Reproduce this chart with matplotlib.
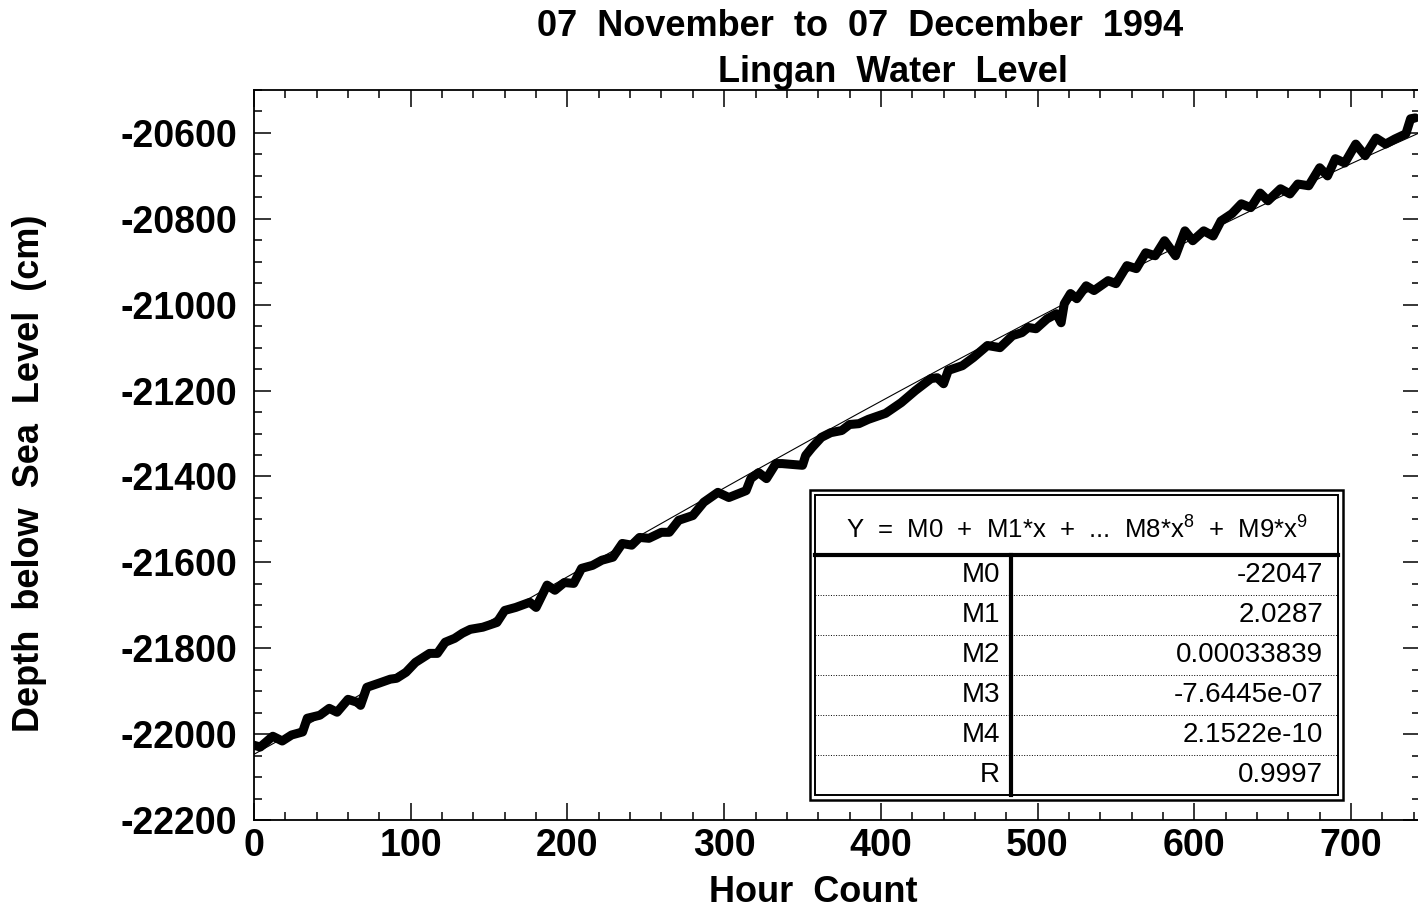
import numpy as np
import matplotlib
matplotlib.use("Agg")
import matplotlib.pyplot as plt
from matplotlib.ticker import MultipleLocator

plt.rcParams['font.family'] = ['Liberation Sans', 'DejaVu Sans']
plt.rcParams['axes.unicode_minus'] = False
plt.rcParams['mathtext.fontset'] = 'custom'
plt.rcParams['mathtext.rm'] = 'Liberation Sans'
plt.rcParams['mathtext.it'] = 'Liberation Sans'

# water level (hour, cm)
hours = [0, 4, 12, 18, 24, 31, 34, 42, 48, 53, 60, 66, 68, 72, 80, 87, 91, 97,
         103, 112, 117, 122, 128, 133, 138, 146, 155, 160, 167, 176, 180, 187,
         192, 198, 204, 209, 216, 222, 229, 235, 241, 246, 252, 260, 265, 271,
         280, 287, 296, 303, 314, 317, 322, 327, 333, 337, 350, 352, 356, 362,
         368, 375, 380, 386, 392, 403, 413, 422, 432, 436, 440, 443, 452, 459,
         468, 476, 484, 490, 494, 499, 506, 512, 515, 517, 521, 525, 531, 536,
         545, 550, 557, 563, 569, 575, 581, 588, 594, 599, 606, 612, 617, 624,
         630, 636, 642, 647, 655, 661, 666, 673, 680, 685, 690, 696, 703, 709,
         716, 722, 728, 735, 738, 741]
level = [-22026, -22030, -22005, -22016, -22002, -21995, -21963, -21956, -21940,
         -21949, -21919, -21926, -21933, -21891, -21881, -21872, -21870, -21856,
         -21833, -21812, -21812, -21786, -21777, -21765, -21756, -21751, -21740,
         -21712, -21705, -21693, -21705, -21653, -21665, -21647, -21649, -21614,
         -21607, -21595, -21588, -21556, -21560, -21542, -21544, -21530, -21530,
         -21502, -21491, -21460, -21437, -21449, -21433, -21405, -21391, -21405,
         -21370, -21370, -21374, -21351, -21333, -21309, -21298, -21293, -21279,
         -21277, -21267, -21253, -21228, -21200, -21172, -21170, -21184, -21153,
         -21142, -21123, -21095, -21100, -21072, -21065, -21053, -21056, -21033,
         -21021, -21042, -20998, -20974, -20986, -20956, -20967, -20944, -20951,
         -20909, -20916, -20879, -20886, -20851, -20886, -20828, -20851, -20828,
         -20840, -20805, -20788, -20765, -20774, -20740, -20758, -20730, -20742,
         -20719, -20723, -20681, -20700, -20660, -20670, -20626, -20653, -20612,
         -20626, -20614, -20602, -20567, -20565]

# fit coefficients from the table
coef_names = ['M0', 'M1', 'M2', 'M3', 'M4', 'R']
coef_text = ['-22047', '2.0287', '0.00033839', '-7.6445e-07', '2.1522e-10', '0.9997']
coefs = [-22047, 2.0287, 0.00033839, -7.6445e-07, 2.1522e-10]

fig = plt.figure(figsize=(14.18, 9.16), dpi=100)
ax = fig.add_axes([254/1418, 1 - 820/916, 1166/1418, 730/916])

xfit = np.linspace(0, 744, 400)
yfit = np.polyval(coefs[::-1], xfit)
ax.plot(xfit, yfit, color='black', lw=0.8, zorder=2)
ax.plot(hours, level, color='black', lw=6.5, solid_joinstyle='round',
        solid_capstyle='round', zorder=3)

ax.set_xlim(0, 744)
ax.set_ylim(-22200, -20500)
ax.xaxis.set_major_locator(MultipleLocator(100))
ax.xaxis.set_minor_locator(MultipleLocator(20))
ax.yaxis.set_major_locator(MultipleLocator(200))
ax.yaxis.set_minor_locator(MultipleLocator(50))
ax.tick_params(which='both', direction='in', top=True, right=True, width=1.1)
ax.tick_params(which='major', length=12)
ax.tick_params(which='minor', length=6)
ax.tick_params(axis='y', labelsize=27, pad=12)
ax.tick_params(axis='x', labelsize=27, pad=6)
for lab in ax.get_xticklabels() + ax.get_yticklabels():
    lab.set_fontweight('bold')
for s in ax.spines.values():
    s.set_linewidth(1.3)

fig.text(860/1418, 1 - 27/916, '07  November  to  07  December  1994',
         ha='center', va='center', fontsize=26, fontweight='bold')
fig.text(893/1418, 1 - 73/916, 'Lingan  Water  Level',
         ha='center', va='center', fontsize=26, fontweight='bold')
fig.text(30/1418, 1 - 473/916, 'Depth  below  Sea  Level  (cm)', rotation=90,
         ha='center', va='center', fontsize=26, fontweight='bold')
fig.text(813/1418, 1 - 893/916, 'Hour  Count',
         ha='center', va='center', fontsize=26, fontweight='bold')

# coefficient table
tx0, tx1, ty0, ty1 = 808, 1345, 488, 802
tab = fig.add_axes([tx0/1418, 1 - ty1/916, (tx1 - tx0)/1418, (ty1 - ty0)/916])
tab.set_xlim(tx0, tx1)
tab.set_ylim(ty1, ty0)
tab.axis('off')
tab.add_patch(plt.Rectangle((810, 490), 533, 310, fill=True, fc='white', ec='black', lw=1.8))
tab.add_patch(plt.Rectangle((815, 495), 523, 300, fill=False, ec='black', lw=1.4))
tab.plot([815, 1338], [555, 555], color='black', lw=3)
tab.plot([1011, 1011], [555, 795], color='black', lw=3)
for k in range(1, len(coef_names)):
    yy = 555 + 40 * k
    tab.plot([815, 1338], [yy, yy], color='black', lw=0.7, ls=':')
tab.text(1077, 530, r'Y  =  M0  +  M1*x  +  ...  M8*x$^{8}$  +  M9*x$^{9}$',
         ha='center', va='center', fontsize=18.5)
for k, (nm, val) in enumerate(zip(coef_names, coef_text)):
    yy = 575 + 40 * k
    tab.text(1000, yy, nm, ha='right', va='center', fontsize=20)
    tab.text(1323, yy, val, ha='right', va='center', fontsize=20)

fig.savefig('out.png', dpi=100)
